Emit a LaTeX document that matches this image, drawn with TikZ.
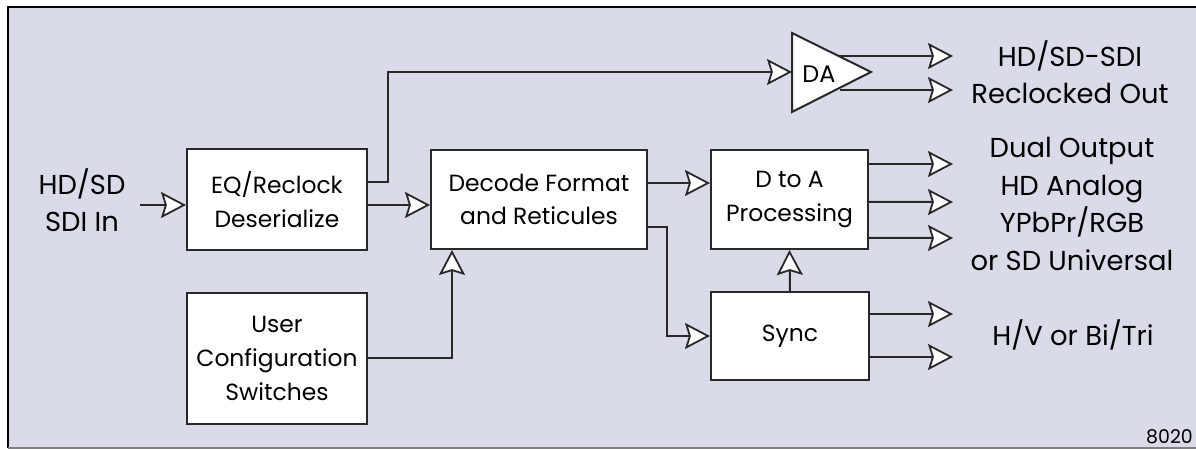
\documentclass[tikz,border=0pt]{standalone}
\usepackage{fontspec}
\setmainfont{Poppins}
\usetikzlibrary{arrows.meta,calc}
\definecolor{bg}{RGB}{217,219,233}
\definecolor{ln}{RGB}{40,40,40}
\tikzset{
  blk/.style={draw=ln,line width=2bp,fill=white,align=center,inner sep=0pt,
    font=\fontsize{23.5}{34}\selectfont},
  conn/.style={draw=ln,line width=2bp},
  arr/.style={conn,-{Stealth[length=25bp,width=26bp,inset=4bp,fill=white,line width=1.8bp]}},
  lbl/.style={align=center,inner sep=0pt,font=\fontsize{27.5}{37.5}\selectfont},
}
\begin{document}
\begin{tikzpicture}[x=1bp,y=-1bp]
\useasboundingbox (0,0) rectangle (1196,449);
\clip (0,0) rectangle (1196,449);
% frame
\fill[bg] (8,7) rectangle (1210,448);
\draw[black,line width=2.5bp] (8,448) -- (8,7) -- (1210,7);
\draw[gray,line width=1.2bp] (8,448) -- (1210,448);
\node[anchor=west,inner sep=0pt,font=\fontsize{19}{22}\selectfont] (code) at (1146,437) {8020};

% blocks
\node[blk,minimum width=180bp,minimum height=101bp] (eq) at (277,199.5) {EQ/Reclock\\Deserialize};
\node[blk,minimum width=180bp,minimum height=131bp] (user) at (277,358.5) {User\\Configuration\\Switches};
\node[blk,minimum width=216bp,minimum height=99bp] (dec) at (539,199.5) {Decode Format\\and Reticules};
\node[blk,minimum width=157bp,minimum height=99bp] (dta) at (789.5,199.5) {D to A\\Processing};
\node[blk,minimum width=158bp,minimum height=88bp] (sync) at (790,336) {Sync};

% DA amplifier
\draw[conn,fill=white,line join=miter] (792,33) -- (871,72) -- (792,112) -- cycle;
\node[inner sep=0pt,font=\fontsize{24}{28}\selectfont] (da) at (819,74) {DA};
\coordinate (dain) at (792,72);
\coordinate (dao1) at (838,56);
\coordinate (dao2) at (840,90);

% labels
\node[lbl] (lin) at (82,200) {HD/SD\\SDI In};
\node[lbl] (lsdi) at (1070,72.5) {HD/SD-SDI\\Reclocked Out};
\node[lbl] (lana) at (1072,204) {Dual Output\\HD Analog\\YPbPr/RGB\\or SD Universal};
\node[lbl] (lsync) at (1073,335) {H/V or Bi/Tri};

% helper coordinates
\coordinate (inS) at (140,205);
\coordinate (up) at (388,72);
\coordinate (dsx) at (667,0);
\coordinate (usx) at (452,0);
\coordinate (tipx) at (953,0);

% connectors
\draw[arr] (inS) -- (eq.west |- inS);
\draw[arr] ($(eq.east)+(0,-17)$) -| (up) -- (dain);
\draw[arr] ($(eq.east)+(0,5.5)$) -- ($(dec.west)+(0,5.5)$);
\draw[arr] ($(dec.east)+(0,-16.5)$) -- ($(dta.west)+(0,-16.5)$);
\draw[arr] ($(dec.east)+(0,27.5)$) -| (dsx |- sync.west) -- (sync.west);
\draw[arr] (user.east) -| (usx |- dec.south);
\draw[arr] (sync.north) -- (dta.south);

% outputs
\draw[arr] (dao1) -- (tipx |- dao1);
\draw[arr] (dao2) -- (tipx |- dao2);
\draw[arr] ($(dta.east)+(0,-35.5)$) -- (tipx |- 0,164);
\draw[arr] ($(dta.east)+(0,2.5)$) -- (tipx |- 0,202);
\draw[arr] ($(dta.east)+(0,38.5)$) -- (tipx |- 0,238);
\draw[arr] ($(sync.east)+(0,-22)$) -- (tipx |- 0,314);
\draw[arr] ($(sync.east)+(0,21)$) -- (tipx |- 0,357);
\end{tikzpicture}
\end{document}
